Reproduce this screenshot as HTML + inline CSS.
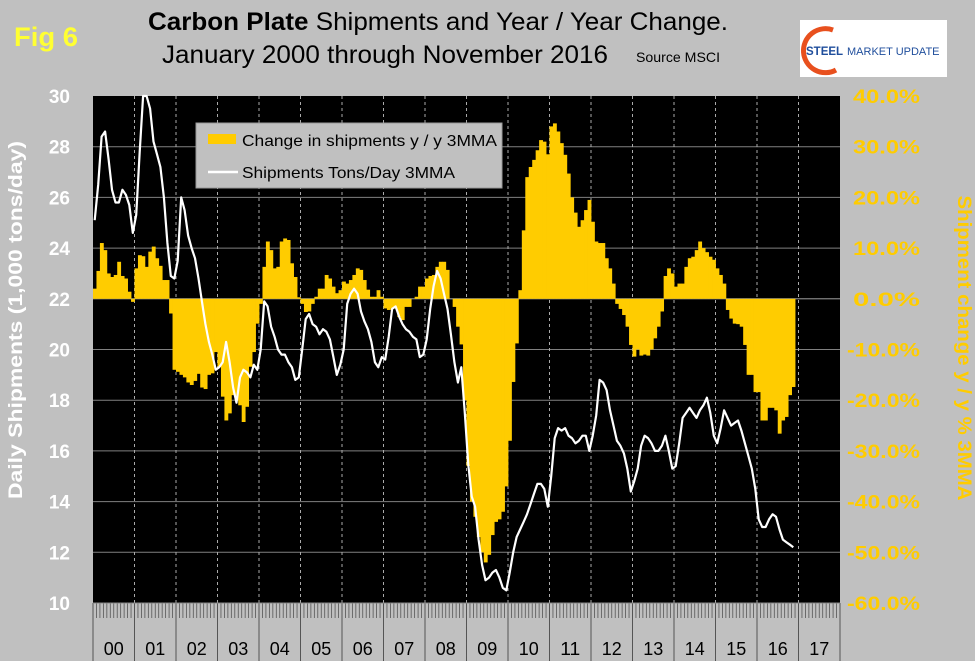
<!DOCTYPE html>
<html><head><meta charset="utf-8"><style>
body{margin:0;background:#c0c0c0;width:975px;height:661px;overflow:hidden;font-family:"Liberation Sans",sans-serif}
</style></head><body>
<svg id="chart" width="975" height="661" xmlns="http://www.w3.org/2000/svg" style="position:absolute;left:0;top:0">
<rect x="0" y="0" width="975" height="661" fill="#c0c0c0"/>
<text x="14" y="46" font-size="27" font-weight="bold" fill="#ffff33" textLength="64" lengthAdjust="spacingAndGlyphs">Fig 6</text>
<text x="148" y="30" font-size="25" fill="#000" textLength="580" lengthAdjust="spacingAndGlyphs"><tspan font-weight="bold">Carbon Plate</tspan> Shipments and Year / Year Change.</text>
<text x="162" y="63" font-size="25" fill="#000" textLength="446" lengthAdjust="spacingAndGlyphs">January 2000 through November 2016</text>
<text x="636" y="62" font-size="14" fill="#000" textLength="84" lengthAdjust="spacingAndGlyphs">Source MSCI</text>
<g>
<rect x="800" y="20" width="147" height="57" fill="#fff"/>
<path d="M833 30 A22 22 0 1 0 836 70" fill="none" stroke="#e8501e" stroke-width="5"/>
<text x="806" y="55" font-size="11.5" font-weight="bold" fill="#1f4e9c">STEEL</text>
<text x="847" y="55" font-size="11" fill="#1f4e9c">MARKET UPDATE</text>
</g>
<rect x="93" y="96" width="747" height="507" fill="#000"/>
<g id="grid"></g>
<g id="bars"></g>
<g id="line"></g>
<g id="axes"></g>
<g>
<rect x="196" y="123" width="306" height="65" fill="#c0c0c0" stroke="#999"/>
<rect x="208" y="134" width="28" height="10" fill="#ffcc00"/>
<text x="242" y="146" font-size="16" fill="#000" textLength="255" lengthAdjust="spacingAndGlyphs">Change in shipments y / y 3MMA</text>
<line x1="208" y1="172" x2="238" y2="172" stroke="#fff" stroke-width="2.5"/>
<text x="242" y="178" font-size="16" fill="#000" textLength="213" lengthAdjust="spacingAndGlyphs">Shipments Tons/Day 3MMA</text>
</g>
<text transform="translate(22,320) rotate(-90)" text-anchor="middle" font-size="19" font-weight="bold" fill="#fff" textLength="358" lengthAdjust="spacingAndGlyphs">Daily Shipments (1,000 tons/day)</text>
<text transform="translate(958,348) rotate(90)" text-anchor="middle" font-size="19" font-weight="bold" fill="#ffcc00" textLength="305" lengthAdjust="spacingAndGlyphs">Shipment change y / y % 3MMA</text>
</svg>
<script>
const years = ["00","01","02","03","04","05","06","07","08","09","10","11","12","13","14","15","16","17"];
const leftTicks = [10,12,14,16,18,20,22,24,26,28,30];
const rightTicks = ["-60.0%","-50.0%","-40.0%","-30.0%","-20.0%","-10.0%","0.0%","10.0%","20.0%","30.0%","40.0%"];
const shipments = [25.1,26.5,28.4,28.6,27.5,26.3,25.8,25.8,26.3,26.1,25.7,24.6,
25.3,27.8,30.2,30.3,29.5,28.2,27.7,27.2,26.0,24.2,22.9,22.8,
23.5,26.0,25.5,24.5,24.0,23.6,22.8,21.9,21.0,20.3,19.8,19.2,
19.3,19.5,20.3,19.5,18.5,17.9,18.9,19.2,19.1,18.9,19.4,19.2,
20.0,21.9,21.7,20.9,20.5,20.0,19.8,19.8,19.5,19.3,18.8,18.9,
20.0,21.2,21.4,21.0,20.9,20.6,20.8,20.7,20.4,19.7,19.0,19.4,
20.0,21.8,22.2,22.4,22.2,21.5,21.1,20.8,20.3,19.5,19.3,19.7,
19.6,20.5,21.6,21.7,21.3,21.0,20.8,20.7,20.5,20.4,19.7,19.8,
20.4,21.6,22.5,23.1,22.8,22.2,21.6,20.6,19.5,18.7,19.3,17.5,
15.5,14.2,13.8,12.5,11.5,10.9,11.0,11.2,11.3,11.0,10.6,10.5,
11.2,12.0,12.6,12.9,13.2,13.5,13.9,14.3,14.7,14.7,14.5,13.8,
15.0,16.5,16.9,16.8,16.9,16.6,16.5,16.3,16.4,16.6,16.6,16.0,
16.6,17.4,18.8,18.7,18.4,17.6,17.0,16.4,16.2,15.9,15.3,14.4,
14.8,15.3,16.2,16.6,16.5,16.3,16.0,16.0,16.2,16.6,16.0,15.3,
15.4,16.3,17.3,17.5,17.7,17.5,17.3,17.6,17.8,18.1,17.5,16.6,
16.3,16.9,17.6,17.3,17.0,17.1,17.2,16.8,16.3,15.8,15.3,14.5,
13.3,13.0,13.0,13.3,13.5,13.4,12.9,12.5,12.4,12.3,12.2];
const changePct = [2.0,5.5,11,9.6,5.0,4.3,4.7,7.3,4.5,4.0,1.4,-0.6,
6.0,8.6,8.4,6.3,9.3,10.3,8.0,6.5,3.7,3.7,-2.9,-14,
-14.4,-15.0,-15.5,-16.5,-17.0,-16.2,-14.8,-17.5,-17.8,-15,-14.7,-10.5,
-13.4,-19.3,-24,-22.6,-19,-20,-21,-24.3,-21.3,-13.4,-10.5,-4.9,
-1,6.3,11.3,9.6,6.0,6.3,11.3,11.9,11.6,7,4.3,0.3,
-1,-2.6,-2.5,-1,0.4,2.0,2.0,4.7,4.0,2.4,1.1,1.7,
3.4,3.0,3.7,4.7,6.0,5.7,3.7,1.8,0.4,0.4,1.7,0.4,
-1.9,-2.2,-1.9,-1.9,-3.6,-4.2,-1.6,-1.6,0,0.4,2.4,2.4,
4,4.5,4.7,6.3,7.3,7.3,5.7,0,-1.6,-5.5,-9,-20,
-33,-40,-43,-47,-50,-52,-50.5,-46.6,-44,-43.5,-42,-37,
-28,-16.4,-8.8,1.7,13.5,24,26,27.4,29.3,31.3,31,28.5,
34,34.6,33,30.7,28.4,24.7,20,17,14.2,15.5,17.5,19.5,
15.2,11.3,11,11,8,6,3,-1,-2,-3.2,-5.5,-9.1,
-11.4,-10,-11.2,-11,-11.2,-10,-7.8,-5.5,-2.5,4.5,6,5,
2.4,3,3,6.3,8,8.3,9.6,11.3,10,9.2,8.3,7.7,
6,4.7,3,-2.2,-3.9,-4.9,-5,-5.5,-9.1,-15,-15,-18.4,
-18.4,-24,-24,-21.5,-21.5,-22,-26.6,-24,-23.3,-19,-17.4];

const NS="http://www.w3.org/2000/svg";
const X0=93, X1=840, Y0=96, Y1=603;
const monthW=(X1-X0)/(years.length*12);
const xM=i=>X0+i*monthW;
const yL=v=>Y1-(v-10)/(30-10)*(Y1-Y0);
const yR=p=>Y1-(p+60)/100*(Y1-Y0);
function mk(tag,attrs,parent){const e=document.createElementNS(NS,tag);for(const k in attrs)e.setAttribute(k,attrs[k]);parent.appendChild(e);return e;}
const grid=document.getElementById('grid'),bars=document.getElementById('bars'),line=document.getElementById('line'),axes=document.getElementById('axes');

leftTicks.forEach((t,i)=>{
  const y=yL(t);
  if(i>0&&i<leftTicks.length-1){const g=mk('line',{x1:X0,x2:X1,y1:y,y2:y,stroke:'#808080','stroke-width':1},grid);
  
  }
  const tx=mk('text',{x:70,y:y+7,'text-anchor':'end','font-size':19,'font-weight':'bold',fill:'#fff'},axes);
  tx.textContent=t;
  
  
});
rightTicks.forEach((t,i)=>{
  const y=Y1-i*(Y1-Y0)/(rightTicks.length-1);
  const tx=mk('text',{x:i<6?847:853,y:y+7,'font-size':19,'font-weight':'bold',fill:'#ffcc00',textLength:i<6?73:67,lengthAdjust:'spacingAndGlyphs'},axes);
  tx.textContent=t;
  
  
});
years.forEach((yr,i)=>{
  const x=xM(i*12);
  if(i>0){const g=mk('line',{x1:x,x2:x,y1:Y0,y2:Y1,stroke:'#aaa','stroke-width':1,'stroke-dasharray':'3,3'},grid);
  
  }
  mk('line',{x1:x,x2:x,y1:Y1,y2:661,stroke:'#555','stroke-width':1},axes);
  const tx=mk('text',{x:x+monthW*6,y:655,'text-anchor':'middle','font-size':18,fill:'#000',textLength:20,lengthAdjust:'spacingAndGlyphs'},axes);
  tx.textContent=yr;
  
  
});
mk('line',{x1:X1,x2:X1,y1:Y1,y2:661,stroke:'#555','stroke-width':1},axes);
for(let i=0;i<=years.length*12;i++){mk('line',{x1:xM(i),x2:xM(i),y1:Y1,y2:618,stroke:'#555','stroke-width':0.8},axes);}
mk('line',{x1:X0,x2:X1,y1:Y1,y2:Y1,stroke:'#888','stroke-width':1},axes);

const zeroY=yR(0);
changePct.forEach((p,i)=>{
  const y=yR(p);
  const r=mk('rect',{x:xM(i),width:monthW+0.4,y:Math.min(y,zeroY),height:Math.abs(y-zeroY),fill:'#ffcc00'},bars);
  
  
});
mk('line',{x1:X0,x2:X1,y1:zeroY,y2:zeroY,stroke:'#808080','stroke-width':1},grid);
const pts=shipments.map((v,i)=>(xM(i)+monthW/2).toFixed(1)+','+Math.max(Y0,yL(v)).toFixed(1)).join(' ');
const pl=mk('polyline',{points:pts,fill:'none',stroke:'#fff','stroke-width':2.2,'stroke-linejoin':'round'},line);


</script>
</body></html>
